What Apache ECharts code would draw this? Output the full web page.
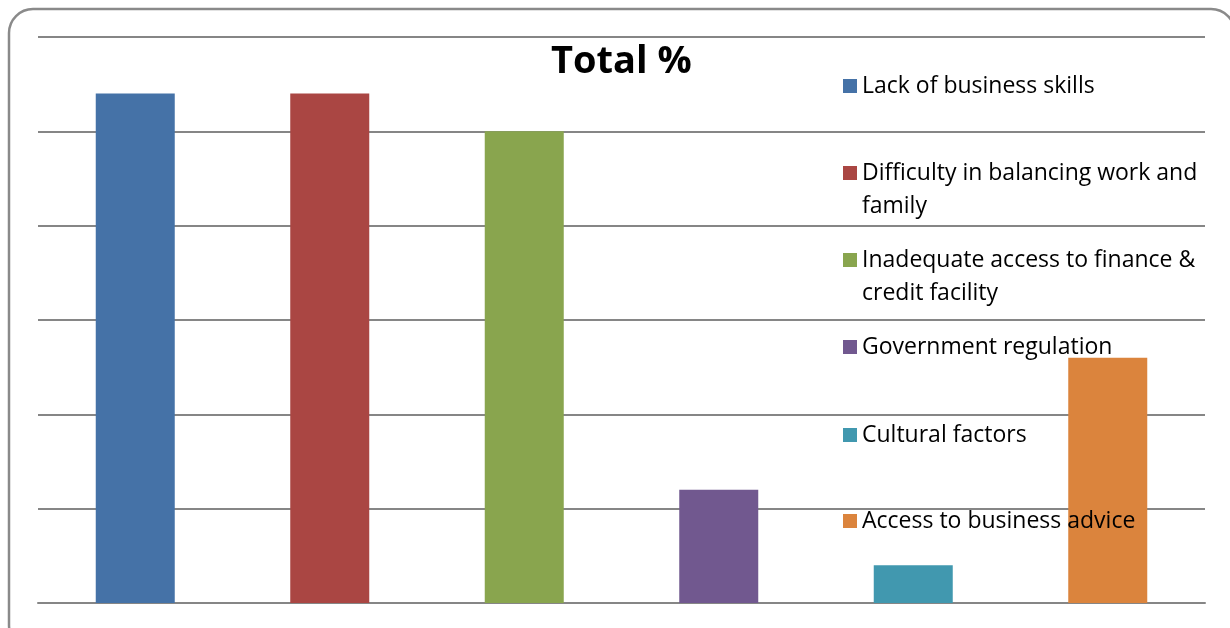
<!DOCTYPE html>
<html>
<head>
<meta charset="utf-8">
<script src="https://cdn.jsdelivr.net/npm/echarts@6/dist/echarts.min.js"></script>
<style>
  html, body { margin: 0; padding: 0; background: #fff; }
  #chart { width: 1230px; height: 628px; }
</style>
</head>
<body>
<div id="chart"></div>
<script>
// Share of respondents (%) naming each obstacle
const categories = [
  'Lack of business skills',
  'Difficulty in balancing work and family',
  'Inadequate access to finance & credit facility',
  'Government regulation',
  'Cultural factors',
  'Access to business advice'
];
const totals = [27, 27, 25, 6, 2, 13];
const legendLines = [
  ['Lack of business skills'],
  ['Difficulty in balancing work and', 'family'],
  ['Inadequate access to finance &', 'credit facility'],
  ['Government regulation'],
  ['Cultural factors'],
  ['Access to business advice']
];
const colors = ['#4572A7', '#AA4643', '#89A54E', '#71588F', '#4198AF', '#DB843D'];
const yTicks = { min: 0, max: 30, interval: 5 };

const FONT = 'Open Sans';
const LINE_H = 33;
const ICON = 14;
// vertical centre of each legend marker
const legendY = [86, 173, 260, 347, 435, 521];

const chart = echarts.init(document.getElementById('chart'));

const series = categories.map((name, i) => ({
  name: name,
  type: 'bar',
  stack: 'total',
  barWidth: 79,
  itemStyle: { color: colors[i] },
  data: categories.map((c, j) => (j === i ? totals[i] : '-'))
}));

const legends = categories.map((name, i) => {
  const lines = legendLines[i];
  const wrapped = lines.length > 1;
  // wrapped entries get a blank leading line so the first text line sits beside the marker
  const text = wrapped ? '\n' + lines.join('\n') : lines[0];
  const boxH = wrapped ? LINE_H * 3 : LINE_H;
  return {
    data: [name],
    orient: 'vertical',
    left: 843,
    top: legendY[i] - boxH / 2,
    padding: 0,
    itemGap: 0,
    icon: 'rect',
    itemWidth: ICON,
    itemHeight: ICON,
    formatter: () => text,
    textStyle: {
      fontFamily: FONT,
      fontSize: 23,
      color: '#000',
      lineHeight: LINE_H
    }
  };
});

chart.setOption({
  animation: false,
  backgroundColor: '#fff',
  title: {
    text: 'Total %',
    left: 546,
    top: 38,
    textStyle: { fontFamily: FONT, fontWeight: 'bold', fontSize: 38, color: '#000' }
  },
  legend: legends,
  grid: { left: 38, right: 25, top: 37, bottom: 25, containLabel: false },
  xAxis: {
    type: 'category',
    data: categories,
    axisLine: { show: true, lineStyle: { color: '#868686', width: 2 } },
    axisTick: { show: false },
    axisLabel: { show: false }
  },
  yAxis: {
    type: 'value',
    min: yTicks.min,
    max: yTicks.max,
    interval: yTicks.interval,
    axisLine: { show: false },
    axisTick: { show: false },
    axisLabel: { show: false },
    splitLine: { lineStyle: { color: '#868686', width: 2 } }
  },
  series: series,
  graphic: [{
    type: 'rect',
    silent: true,
    z: 100,
    shape: { x: 9, y: 9, width: 1226, height: 640, r: 24 },
    style: { fill: 'none', stroke: '#8a8a8a', lineWidth: 2.5 }
  }]
});
</script>
</body>
</html>
